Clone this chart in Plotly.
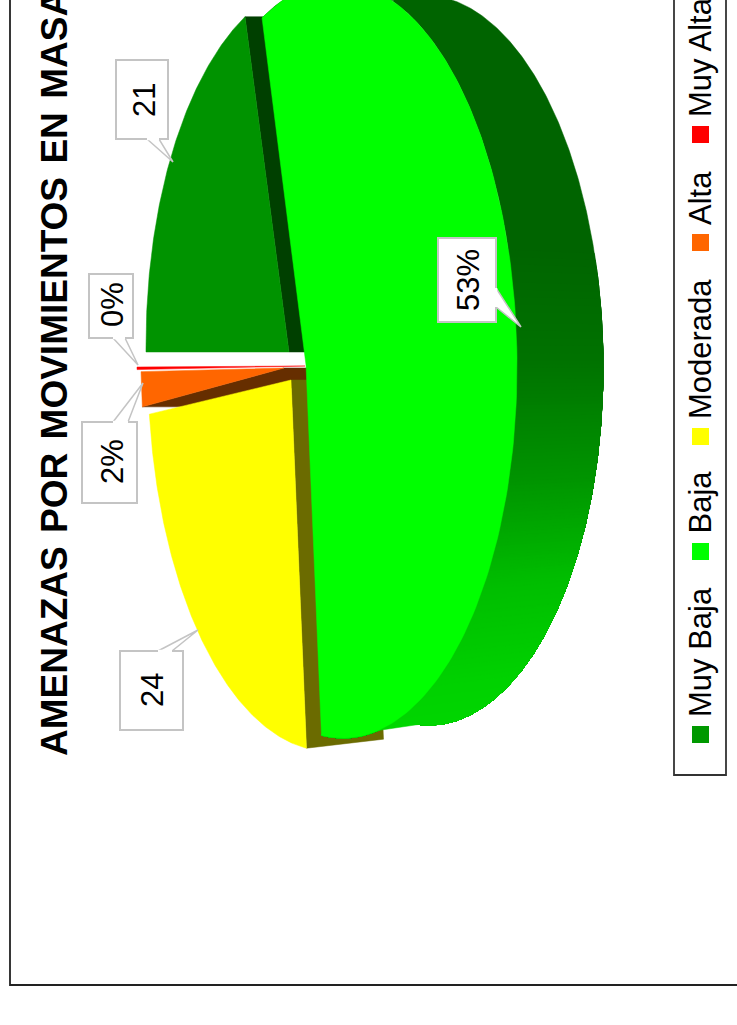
import numpy as np
import plotly.graph_objects as go

# ---------- data ----------
categories = ["Muy Baja", "Baja", "Moderada", "Alta", "Muy Alta"]
values = [21, 53, 24, 2, 0.15]
value_labels = ["21", "53%", "24", "2%", "0%"]
top_colors = ["#009300", "#00ff00", "#ffff00", "#ff6600", "#ff0000"]
title_words = ["AMENAZAS", "POR", "MOVIMIENTOS", "EN", "MASA"]

# ---------- projection of the 3D pie on the page ----------
CX, CY, RX, RY = 340.0, 360.0, 177.0, 378.0
PERSPECTIVE = 11.0
SKEW = 3.0
DEPTH_X, DEPTH_SCALE, DEPTH_CY = 86.0, 365.0 / 378.0, 360.0
# per slice: apex, rim offset, vertical rim scale
apex = [(289, 352), (306, 365), (291, 380), (284, 368), (305, 366)]
rim_off = [(-17, -8), (0, 0), (-15, 13), (-22, 9), (-26, 7)]
rim_sy = [0.98, 1, 1, 0.92, 1]

fracs = np.array(values, dtype=float) / sum(values)
edges = np.concatenate([[0.0], np.cumsum(fracs)]) * 360.0


def rim(phi, i):
    p = np.radians(phi - PERSPECTIVE * np.sin(np.radians(phi)))
    x = CX - RX * np.cos(p) - SKEW * np.sin(p) + rim_off[i][0]
    y = CY - RY * np.sin(p) * rim_sy[i] + rim_off[i][1]
    return x, y


def poly(fig, xs, ys, color):
    fig.add_trace(go.Scatter(x=list(xs), y=list(ys), mode="lines", fill="toself",
                             fillcolor=color, line=dict(color=color, width=0.5),
                             hoverinfo="skip", showlegend=False))


def wedge(fig, i):
    phi = np.linspace(edges[i], edges[i + 1], 160)
    x, y = rim(phi, i)
    poly(fig, np.r_[apex[i][0], x, apex[i][0]], np.r_[apex[i][1], y, apex[i][1]], top_colors[i])


def edge_face(fig, i, phi, dx, dy, color):
    rx, ry = rim(np.array([phi]), i)
    ax, ay = apex[i]
    poly(fig, [ax, rx[0], rx[0] + dx, ax + dx, ax], [ay, ry[0], ry[0] + dy, ay, ay], color)


fig = go.Figure()

# cut faces seen between the exploded slices
edge_face(fig, 0, edges[1], 80, 0, "#004000")
edge_face(fig, 3, edges[3], 80, 0, "#662e00")
edge_face(fig, 2, edges[2], 77, -9, "#6b6b00")

# tops of the far slices
for i in (2, 3, 4, 0):
    wedge(fig, i)

# curved wall of the near slice: each band repaints from its start to the arc's end
shade_y = [0, 240, 360, 480, 580, 680, 735]
shade_g = [100, 100, 115, 150, 190, 210, 215]
phis = np.linspace(edges[1], edges[2], 400)
rx_all, ry_all = rim(phis, 1)
ex_all = rx_all + DEPTH_X
ey_all = DEPTH_CY + (ry_all - CY) * DEPTH_SCALE
g_all = np.interp((ry_all + ey_all) / 2, shade_y, shade_g).astype(int)
start = 0
for k in range(1, len(phis) + 1):
    if k == 1 or g_all[k - 1] != g_all[start]:
        start = k - 1
        poly(fig,
             np.r_[rx_all[start:], ex_all[start:][::-1], rx_all[start]],
             np.r_[ry_all[start:], ey_all[start:][::-1], ry_all[start]],
             f"rgb(0,{g_all[start]},0)")

wedge(fig, 1)

# ---------- page furniture ----------
BORDER = "#c4c4c4"
callouts = [
    ((116, 60, 168, 139), [(147, 139), (173, 162), (159, 139)], (144, 100)),
    ((438, 238, 496, 322), [(496, 288), (521, 327), (496, 307)], (468, 280)),
    ((120, 651, 183, 730), [(158, 651), (198, 630), (172, 651)], (152, 690)),
    ((82, 422, 137, 503), [(113, 422), (143, 383), (128, 422)], (112, 462)),
    ((89, 274, 133, 338), [(113, 338), (138, 365), (125, 338)], (112, 305)),
]
annotations = []
font_family = "Liberation Sans, Arial, sans-serif"
for (box, tail, pos), txt in zip(callouts, value_labels):
    x0, y0, x1, y1 = box
    path = f"M{x0},{y0} L{x1},{y0} L{x1},{y1} L{x0},{y1} Z"
    fig.add_shape(type="path", path=path, line=dict(color=BORDER, width=2), fillcolor="white", layer="above")
    tx = " ".join(("M" if k == 0 else "L") + f"{p[0]},{p[1]}" for k, p in enumerate(tail)) + " Z"
    fig.add_shape(type="path", path=tx, line=dict(color=BORDER, width=1.5), fillcolor="white", layer="above")
    a, c = tail[0], tail[2]
    fig.add_shape(type="line", x0=a[0], y0=a[1], x1=c[0], y1=c[1], line=dict(color="white", width=2.5), layer="above")
    annotations.append(dict(x=pos[0], y=pos[1], text=txt, textangle=-90, showarrow=False,
                            xanchor="center", yanchor="middle",
                            font=dict(family=font_family, size=31, color="black")))

annotations.append(dict(x=54, y=373, text="<b>" + " \u200a".join(title_words) + "</b>",
                        textangle=-90, showarrow=False, xanchor="center", yanchor="middle",
                        font=dict(family=font_family, size=37, color="black")))

# frame and legend box run off the page as in the reference
fig.add_shape(type="path", path="M10,-20 L10,985 L760,985 L760,-20 Z",
              line=dict(color="#222222", width=1.8), fillcolor="rgba(0,0,0,0)", layer="below")
fig.add_shape(type="path", path="M674,-20 L674,775 L726,775 L726,-20 Z",
              line=dict(color="#333333", width=1.8), fillcolor="white", layer="above")

legend_marker_y = [726, 543, 428, 234, 126]
legend_colors = ["#009900", "#00ff00", "#ffff00", "#ff6600", "#ff0000"]
for name, my, col in zip(categories, legend_marker_y, legend_colors):
    fig.add_shape(type="rect", x0=692, x1=709, y0=my, y1=my + 17, fillcolor=col,
                  line=dict(width=0), layer="above")
    annotations.append(dict(x=700, y=my - 8, text=name, textangle=-90, showarrow=False,
                            xanchor="center", yanchor="bottom", borderpad=0,
                            font=dict(family=font_family, size=31, color="black")))

fig.update_layout(
    width=737, height=1025, margin=dict(l=0, r=0, t=0, b=0),
    paper_bgcolor="white", plot_bgcolor="white", showlegend=False,
    xaxis=dict(range=[0, 737], visible=False, fixedrange=True),
    yaxis=dict(range=[1025, 0], visible=False, fixedrange=True),
    annotations=annotations,
)
fig.write_html("out.html", config={"displayModeBar": False},
               post_script="document.body.style.margin='0';document.body.style.overflow='hidden';")
